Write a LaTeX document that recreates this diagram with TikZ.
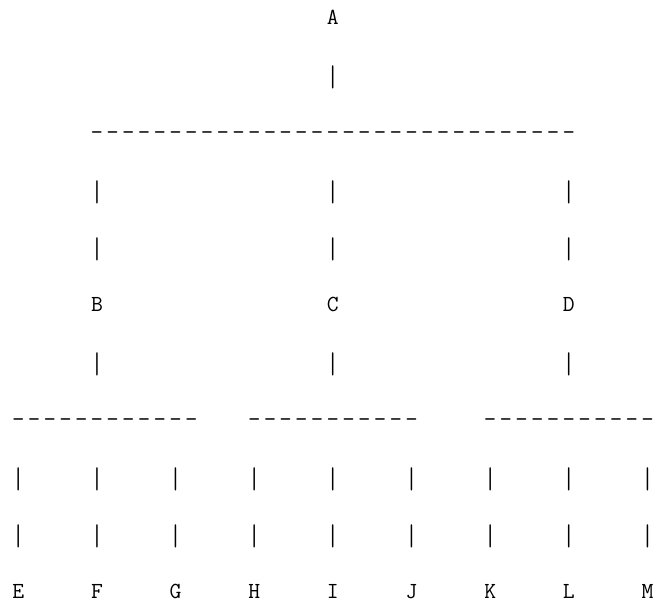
\documentclass[tikz,border=0pt]{standalone}
\usepackage{fontspec}
\usepackage{tikz}

\begin{document}
\begin{tikzpicture}[x=15.73pt,y=-57.4pt,
  ch/.style={anchor=base,inner sep=0pt,font=\ttfamily\fontsize{23}{23}\selectfont},
  hyph/.style={ch,xscale=1.05},
  bar/.style={ch,yscale=1.3,yshift=-3pt}]
  \useasboundingbox (-18.3pt,25pt) rectangle (638.7pt,-576pt);
  % root and its stem
  \node[ch] (A) at (20,0) {A};
  \node[bar] (stemA) at (20,1) {|};
  % top bar of dashes
  \foreach \c in {5,...,35} \node[hyph] (top\c) at (\c,2) {-};
  % legs down to the middle row
  \foreach \c in {5,20,35} {
    \node[bar] (legA\c) at (\c,3) {|};
    \node[bar] (legB\c) at (\c,4) {|};
    \node[bar] (stem\c) at (\c,6) {|};
  }
  \node[ch] (B) at (5,5) {B};
  \node[ch] (C) at (20,5) {C};
  \node[ch] (D) at (35,5) {D};
  % lower bars of dashes
  \foreach \c in {0,...,11,15,16,...,25,30,31,...,40} \node[hyph] (low\c) at (\c,7) {-};
  % legs down to the leaves
  \foreach \c in {0,5,...,40} {
    \node[bar] (legC\c) at (\c,8) {|};
    \node[bar] (legD\c) at (\c,9) {|};
  }
  % leaves
  \foreach \l [count=\i from 0] in {E,F,G,H,I,J,K,L,M}
    \node[ch] (\l) at (5*\i,10) {\l};
\end{tikzpicture}
\end{document}
